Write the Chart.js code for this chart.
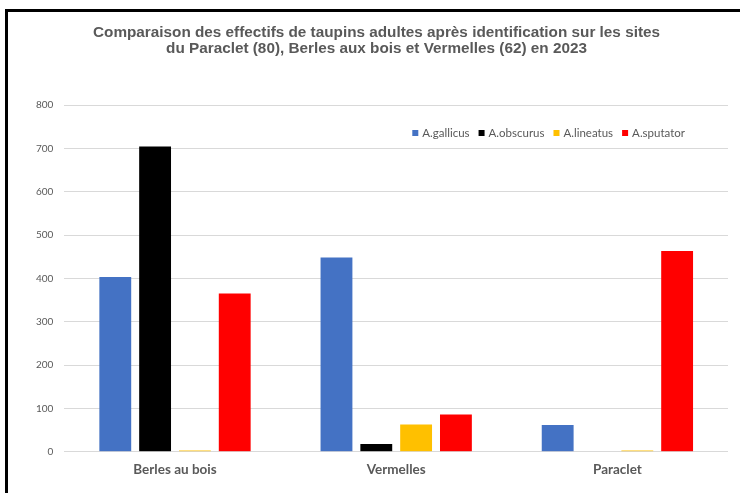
<!DOCTYPE html>
<html>
<head>
<meta charset="utf-8">
<script src="https://cdn.jsdelivr.net/npm/chart.js@4.4.1/dist/chart.umd.min.js"></script>
<style>
html, body { margin: 0; padding: 0; background: #fff; }
#cadre {
    position: absolute; left: 5px; top: 9px;
    width: 732px; height: 481px;
    border-left: 3px solid #000; border-top: 3px solid #000;
}
</style>
</head>
<body>
<div id="cadre"><canvas id="myChart"></canvas></div>
<script>
// donnees
const sites = ['Berles au bois', 'Vermelles', 'Paraclet'];
const especes = ['A.gallicus', 'A.obscurus', 'A.lineatus', 'A.sputator'];
const gallicus = [403, 448, 62];
const obscurus = [704, 18, 0];
const lineatus = [3, 63, 3];
const sputator = [365, 86, 463];
const yMin = 0, yMax = 800, yPas = 100;

const couleurs = ['#4472C4', '#000000', '#FFC000', '#FF0000'];
const gris = '#595959';

/******************************************/
// legende dessinee dans la zone du graphique (en haut a droite)
const legendeInterne = {
    id: 'legendeInterne',
    afterDraw(chart) {
        const c = chart.ctx, ca = chart.chartArea;
        const boite = 6, ecart = 4, entre = 9;
        c.save();
        c.font = '11.5px Lato';
        c.textBaseline = 'middle';
        const ds = chart.data.datasets;
        const largeurs = ds.map(d => boite + ecart + c.measureText(d.label).width);
        const total = largeurs.reduce((a, b) => a + b, 0) + entre * (ds.length - 1);
        let x = ca.right - 43 - total;
        const y = ca.top + 28;
        ds.forEach((d, i) => {
            c.fillStyle = d.backgroundColor;
            c.fillRect(x, y - boite / 2, boite, boite);
            c.fillStyle = gris;
            c.fillText(d.label, x + boite + ecart, y);
            x += largeurs[i] + entre;
        });
        c.restore();
    }
};

const series = [gallicus, obscurus, lineatus, sputator];
const ctx = document.getElementById('myChart').getContext('2d');
const myChart = new Chart(ctx, {
    type: 'bar',
    data: {
        labels: sites,
        datasets: series.map((s, i) => ({
            label: especes[i],
            data: s,
            backgroundColor: couleurs[i],
            borderWidth: 0,
            categoryPercentage: 0.72,
            barPercentage: 0.8
        }))
    },
    plugins: [legendeInterne],
    options: {
        responsive: true,
        maintainAspectRatio: false,
        animation: false,
        layout: { padding: { left: 17, right: 12, top: 0, bottom: 5 } },
        plugins: {
            tooltip: { enabled: false },
            legend: { display: false },
            title: {
                display: true,
                text: ['Comparaison des effectifs de taupins adultes après identification sur les sites',
                       'du Paraclet (80), Berles aux bois et Vermelles (62) en 2023'],
                color: gris,
                font: { family: 'Liberation Sans', size: 15.3, weight: 'bold', lineHeight: '16px' },
                padding: { top: 13, bottom: 48 }
            }
        },
        scales: {
            x: {
                grid: { display: false, drawTicks: false },
                border: { display: false },
                ticks: {
                    color: gris,
                    padding: 10,
                    font: { family: 'Lato', size: 13.5, weight: 'bold' }
                }
            },
            y: {
                min: yMin,
                max: yMax,
                grid: { color: '#d9d9d9', drawTicks: false },
                border: { display: false },
                ticks: {
                    stepSize: yPas,
                    padding: 11,
                    color: gris,
                    font: { family: 'Lato', size: 10 }
                }
            }
        }
    }
});
</script>
</body>
</html>
